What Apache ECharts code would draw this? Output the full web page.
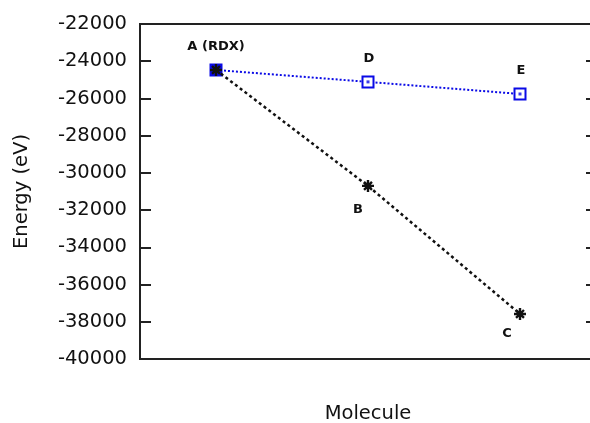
<!DOCTYPE html>
<html>
<head>
<meta charset="UTF-8">
<title>Energy vs Molecule</title>
<style>
  html, body, #chart { margin: 0; padding: 0; width: 590px; height: 423px; background: #fff; overflow: hidden; }
</style>
</head>
<body>
<div id="chart"></div>
<script src="https://cdn.jsdelivr.net/npm/echarts@6/dist/echarts.min.js"></script>
<script>
// data
var molecules = ['1', '2', '3'];
var energyABC = [-24470, -30700, -37580];   // black: A -> B -> C
var energyADE = [-24470, -25110, -25760];   // blue:  A -> D -> E
var namesABC = ['A (RDX)', 'B', 'C'];
var namesADE = ['', 'D', 'E'];
var yTicks = [-40000, -22000, 2000];        // min, max, step

var FONT = 'DejaVu Sans';
var BLUE = '#0a0ae6';
var asterisk = 'path://M4,0H6V10H4Z M0,4H10V6H0Z M1,2.4L2.4,1L9,7.6L7.6,9Z M7.6,1L9,2.4L2.4,9L1,7.6Z';

// label offsets relative to point centre
var offABC = [[0, -23], [-10, 24], [-13, 20]];
var offADE = [[0, 0], [1, -23], [1, -23]];

function labelled(values, names, offs, extra) {
  return values.map(function (v, i) {
    var item = { value: v, label: { show: !!names[i], formatter: names[i], position: 'inside', offset: offs[i] } };
    if (extra && extra[i]) item.itemStyle = extra[i];
    return item;
  });
}

var chart = echarts.init(document.getElementById('chart'));
var labelStyle = { fontFamily: FONT, fontWeight: 'bold', fontSize: 13, color: '#111' };

chart.setOption({
  animation: false,
  grid: {
    left: 140, top: 24, width: 456, height: 335, outerBoundsMode: 'none',
    show: true, borderColor: '#222', borderWidth: 2
  },
  xAxis: {
    type: 'category', data: molecules, boundaryGap: true,
    name: 'Molecule', nameLocation: 'middle', nameGap: 45,
    nameTextStyle: { fontFamily: FONT, fontSize: 19.5, color: '#111' },
    axisLine: { show: false }, axisTick: { show: false }, axisLabel: { show: false }
  },
  yAxis: [{
    type: 'value', min: yTicks[0], max: yTicks[1], interval: yTicks[2],
    name: 'Energy (eV)', nameLocation: 'middle', nameGap: 108,
    nameTextStyle: { fontFamily: FONT, fontSize: 19.5, color: '#111' },
    axisLine: { show: false },
    axisTick: { show: true, inside: true, length: 11, lineStyle: { color: '#222', width: 2 } },
    axisLabel: { fontFamily: FONT, fontSize: 19.5, color: '#111', margin: 13, formatter: function (v) { return String(v); } },
    splitLine: { show: false }
  }, {
    type: 'value', position: 'right', min: yTicks[0], max: yTicks[1], interval: yTicks[2],
    axisLine: { show: false },
    axisTick: { show: true, inside: true, length: 10, lineStyle: { color: '#222', width: 2 } },
    axisLabel: { show: false }, splitLine: { show: false }
  }],
  series: [{
    type: 'line', name: 'A-D-E',
    data: labelled(energyADE, namesADE, offADE, [{ color: BLUE }]),
    symbol: 'rect', symbolSize: 11,
    itemStyle: { color: '#fff', borderColor: BLUE, borderWidth: 2 },
    lineStyle: { color: BLUE, width: 2, type: [2, 2] },
    label: labelStyle, z: 2
  }, {
    type: 'scatter', name: 'A-D-E dots',
    data: energyADE, symbol: 'rect', symbolSize: 3,
    itemStyle: { color: BLUE }, z: 3, silent: true
  }, {
    type: 'line', name: 'A-B-C',
    data: labelled(energyABC, namesABC, offABC),
    symbol: asterisk, symbolSize: 12,
    itemStyle: { color: '#111' },
    lineStyle: { color: '#111', width: 2.5, type: [3, 3] },
    label: labelStyle, z: 4
  }]
});
</script>
</body>
</html>
